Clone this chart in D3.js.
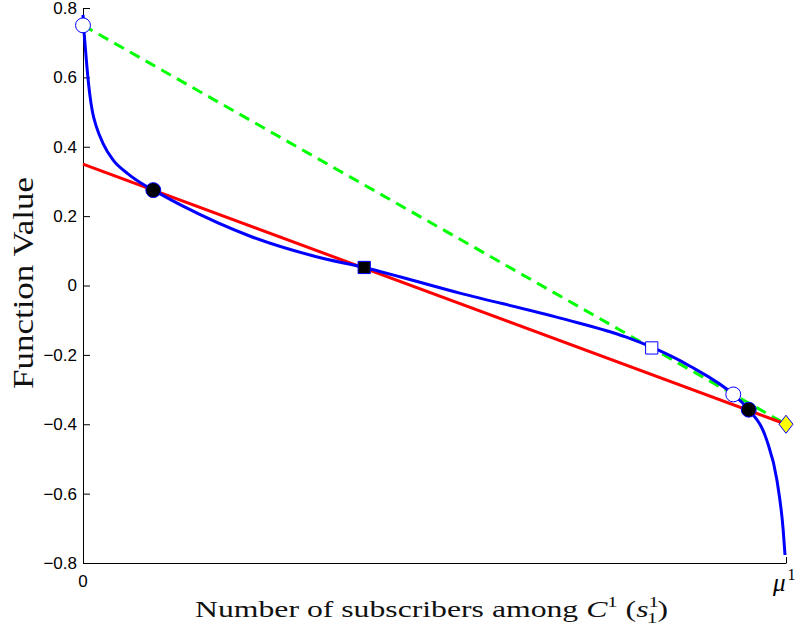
<!DOCTYPE html>
<html><head><meta charset="utf-8">
<script src="https://cdn.jsdelivr.net/npm/d3@7"></script>
<style>body{margin:0;background:#fff}svg{display:block}</style>
</head><body>
<script>
// Data
const curveX = [0, 0.001, 0.0025, 0.0045, 0.0065, 0.0095, 0.0135, 0.019, 0.0284, 0.0427, 0.064, 0.0877, 0.1, 0.143, 0.238, 0.332, 0.4, 0.536, 0.679, 0.773, 0.809, 0.863, 0.925, 0.947, 0.9725, 0.987, 0.996, 0.9986];
const curveY = [0.78, 0.745, 0.705, 0.656, 0.61, 0.553, 0.50, 0.458, 0.41, 0.362, 0.322, 0.289, 0.275, 0.228, 0.142, 0.083, 0.052, -0.022, -0.094, -0.149, -0.178, -0.232, -0.314, -0.358, -0.445, -0.56, -0.705, -0.777];
const redX = [0, 1];
const redY = [0.35, -0.40];
const greenX = [0, 1];
const greenY = [0.75, -0.40];
const markerX = [0, 0.1, 0.4, 0.809, 0.925, 0.947, 1.0];
const markerY = [0.75, 0.275, 0.052, -0.18, -0.314, -0.358, -0.40];
const markerType = ["circle", "circle", "square", "square", "circle", "circle", "diamond"];
const markerFill = ["#ffffff", "#000000", "#000000", "#ffffff", "#ffffff", "#000000", "#ffff00"];
const yTicks = [-0.8, -0.6, -0.4, -0.2, 0, 0.2, 0.4, 0.6, 0.8];
const xTickVals = [0, 1];

const W = 798, H = 642;
const svg = d3.select("body").append("svg").attr("width", W).attr("height", H);
const x = d3.scaleLinear().domain([0, 1]).range([83, 786]);
const y = d3.scaleLinear().domain([-0.8, 0.8]).range([563, 8]);
const sans = "'Liberation Sans', Arial, sans-serif";
const serif = "'Liberation Serif', 'Times New Roman', serif";

// axes
const yAxis = d3.axisLeft(y).tickValues(yTicks).tickSize(0).tickPadding(6)
  .tickFormat(d => d === 0 ? "0" : d3.format(".1f")(d).replace("-", "\u2212"));
const gy = svg.append("g").attr("transform", "translate(83,0)").call(yAxis);
gy.attr("font-size", 17).attr("font-family", sans);
gy.select(".domain").attr("stroke", "#000").attr("stroke-width", 1);
gy.selectAll(".tick text").attr("fill", "#000");
gy.selectAll(".tick").append("line").attr("x1", 0).attr("x2", 7).attr("stroke", "#000").attr("stroke-width", 1);

const xAxis = d3.axisBottom(x).tickValues(xTickVals).tickSize(0).tickFormat(() => "");
const gx = svg.append("g").attr("transform", "translate(0,563)").call(xAxis);
gx.select(".domain").attr("stroke", "#000").attr("stroke-width", 1);
gx.selectAll(".tick").append("line").attr("y1", 0).attr("y2", -6).attr("stroke", "#000").attr("stroke-width", 1);

svg.append("text").attr("x", x(0)).attr("y", 587).attr("text-anchor", "middle")
  .attr("font-family", sans).attr("font-size", 17).text("0");
const mu = svg.append("text").attr("x", x(1) - 13).attr("y", 591)
  .attr("font-family", serif).attr("font-size", 25);
mu.append("tspan").attr("font-style", "italic").text("μ");
mu.append("tspan").attr("font-size", 16).attr("dx", 2).attr("dy", -11).text("1");

// axis titles
const xt = svg.append("text").attr("x", 195).attr("y", 617)
  .attr("font-family", serif).attr("font-size", 23).attr("fill", "#111")
  .attr("textLength", 473).attr("lengthAdjust", "spacingAndGlyphs");
xt.append("tspan").text("Number of subscribers among ");
xt.append("tspan").attr("font-style", "italic").text("C");
xt.append("tspan").attr("font-size", 15).attr("dy", -10).text("1");
xt.append("tspan").attr("dy", 10).text("  (");
xt.append("tspan").attr("font-style", "italic").text("s");
xt.append("tspan").attr("font-size", 15).attr("dy", -10).text("1");
xt.append("tspan").attr("font-size", 15).attr("dx", -8).attr("dy", 16).text("1");
xt.append("tspan").attr("dy", -6).text(")");

svg.append("text").attr("transform", "translate(33,283) rotate(-90)").attr("text-anchor", "middle")
  .attr("font-family", serif).attr("font-size", 30).attr("fill", "#111")
  .attr("textLength", 212).attr("lengthAdjust", "spacingAndGlyphs").text("Function Value");

// lines
const line = d3.line().x(d => x(d[0])).y(d => y(d[1]));
svg.append("path").datum(greenX.map((v, i) => [v, greenY[i]])).attr("d", line)
  .attr("fill", "none").attr("stroke", "#00ff00").attr("stroke-width", 3).attr("stroke-dasharray", "11,7");
svg.append("path").datum(redX.map((v, i) => [v, redY[i]])).attr("d", line)
  .attr("fill", "none").attr("stroke", "#ff0000").attr("stroke-width", 3);
const cline = d3.line().x(d => x(d[0])).y(d => y(d[1])).curve(d3.curveMonotoneX);
svg.append("path").datum(curveX.map((v, i) => [v, curveY[i]])).attr("d", cline)
  .attr("fill", "none").attr("stroke", "#0000ff").attr("stroke-width", 3);

// markers
function markerPath(t) {
  if (t === "circle") return d3.symbol().type(d3.symbolCircle).size(175)();
  if (t === "square") return d3.symbol().type(d3.symbolSquare).size(150)();
  const p = d3.path(); p.moveTo(0, -9); p.lineTo(7, 0); p.lineTo(0, 9); p.lineTo(-7, 0); p.closePath();
  return p.toString();
}
markerX.forEach((v, i) => {
  svg.append("path").attr("d", markerPath(markerType[i]))
    .attr("transform", `translate(${x(v)},${y(markerY[i])})`)
    .attr("fill", markerFill[i]).attr("stroke", "#0000ff").attr("stroke-width", 1);
});
</script>
</body></html>
